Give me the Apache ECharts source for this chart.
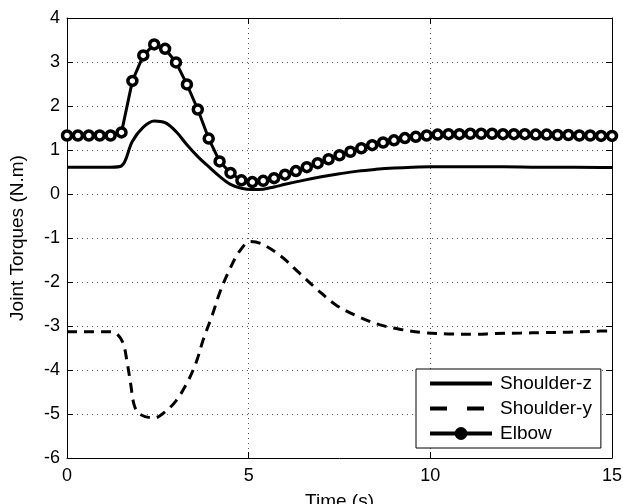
<!DOCTYPE html>
<html>
<head>
<meta charset="utf-8">
<script src="https://cdn.jsdelivr.net/npm/echarts@6/dist/echarts.min.js"></script>
<style>html,body{margin:0;padding:0;background:#fff}#c{width:623px;height:504px}</style>
</head>
<body>
<div id="c"></div>
<script>
var seriesNames = ['Shoulder-z', 'Shoulder-y', 'Elbow'];
var xTicks = [0, 5, 10, 15];
var yTicks = [-6, -5, -4, -3, -2, -1, 0, 1, 2, 3, 4];

var shoulderZT = [0, 1.2, 1.5, 1.8, 2.1, 2.4, 2.7, 3.0, 3.3, 3.6, 3.9, 4.2, 4.5, 4.8, 5.1, 5.4, 5.7, 6.0, 6.5, 7.0, 7.5, 8.0, 8.5, 9.0, 9.5, 10, 11, 12, 13, 14, 15];
var shoulderZV = [0.61, 0.61, 0.64, 1.20, 1.52, 1.66, 1.62, 1.42, 1.12, 0.85, 0.62, 0.40, 0.22, 0.13, 0.10, 0.11, 0.16, 0.22, 0.31, 0.39, 0.46, 0.52, 0.56, 0.59, 0.61, 0.62, 0.62, 0.62, 0.61, 0.61, 0.60];

var shoulderYT = [0, 1.2, 1.4, 1.55, 1.65, 1.75, 1.85, 2.0, 2.4, 2.7, 3.0, 3.3, 3.55, 3.75, 4.0, 4.2, 4.45, 4.75, 5.05, 5.35, 5.9, 6.4, 6.9, 7.4, 8.0, 8.6, 9.2, 9.8, 10.5, 11.2, 11.8, 12.5, 13.1, 13.8, 14.5, 15];
var shoulderYV = [-3.13, -3.13, -3.2, -3.4, -3.8, -4.3, -4.8, -5.0, -5.09, -4.95, -4.7, -4.3, -3.84, -3.31, -2.75, -2.25, -1.76, -1.30, -1.08, -1.13, -1.42, -1.80, -2.18, -2.52, -2.78, -2.97, -3.08, -3.15, -3.18, -3.19, -3.17, -3.16, -3.15, -3.14, -3.12, -3.11];

var elbowT = [0, 0.3, 0.6, 0.9, 1.2, 1.5, 1.8, 2.1, 2.4, 2.7, 3.0, 3.3, 3.6, 3.9, 4.2, 4.5, 4.8, 5.1, 5.4, 5.7, 6.0, 6.3, 6.6, 6.9, 7.2, 7.5, 7.8, 8.1, 8.4, 8.7, 9.0, 9.3, 9.6, 9.9, 10.2, 10.5, 10.8, 11.1, 11.4, 11.7, 12.0, 12.3, 12.6, 12.9, 13.2, 13.5, 13.8, 14.1, 14.4, 14.7, 15.0];
var elbowV = [1.33, 1.33, 1.33, 1.33, 1.33, 1.40, 2.57, 3.15, 3.40, 3.30, 2.99, 2.49, 1.92, 1.26, 0.74, 0.48, 0.31, 0.27, 0.30, 0.36, 0.44, 0.52, 0.61, 0.70, 0.79, 0.88, 0.96, 1.04, 1.11, 1.17, 1.22, 1.27, 1.30, 1.33, 1.35, 1.36, 1.36, 1.37, 1.37, 1.37, 1.36, 1.36, 1.36, 1.35, 1.35, 1.34, 1.34, 1.33, 1.33, 1.32, 1.32];

function zip(t, v) { return t.map(function (x, i) { return [x, v[i]]; }); }

var FONT = 'Liberation Sans, Arial, Helvetica, sans-serif';
var chart = echarts.init(document.getElementById('c'), null, { renderer: 'canvas' });

var splitStyle = { show: true, lineStyle: { color: '#555', width: 1, type: [1, 4] } };
var tickStyle = { show: true, inside: true, length: 6, lineStyle: { color: '#000', width: 1 } };
var lineAxis = { show: true, onZero: false, lineStyle: { color: '#000', width: 1 } };
var hiddenSym = { color: 'rgba(0,0,0,0)', borderColor: 'rgba(0,0,0,0)', borderWidth: 0, opacity: 0 };

chart.setOption({
  animation: false,
  backgroundColor: '#fff',
  grid: { left: 67, right: 11, top: 18, bottom: 46, containLabel: false, outerBoundsMode: 'none' },
  xAxis: [
    {
      type: 'value', position: 'bottom', min: xTicks[0], max: xTicks[xTicks.length - 1], interval: 5,
      axisLine: lineAxis, axisTick: tickStyle, splitLine: splitStyle,
      axisLabel: { color: '#000', fontSize: 18, fontFamily: FONT, margin: 9 },
      name: 'Time (s)', nameLocation: 'middle', nameGap: 34,
      nameTextStyle: { color: '#000', fontSize: 19, fontFamily: FONT, verticalAlign: 'top' }
    },
    {
      type: 'value', position: 'top', min: xTicks[0], max: xTicks[xTicks.length - 1], interval: 5,
      axisLine: lineAxis, axisTick: tickStyle, splitLine: { show: false }, axisLabel: { show: false }
    }
  ],
  yAxis: [
    {
      type: 'value', position: 'left', min: yTicks[0], max: yTicks[yTicks.length - 1], interval: 1,
      axisLine: lineAxis, axisTick: tickStyle, splitLine: splitStyle,
      axisLabel: { color: '#000', fontSize: 18, fontFamily: FONT, margin: 7 },
      name: 'Joint Torques (N.m)', nameLocation: 'middle', nameGap: 40,
      nameTextStyle: { color: '#000', fontSize: 19, fontFamily: FONT }
    },
    {
      type: 'value', position: 'right', min: yTicks[0], max: yTicks[yTicks.length - 1], interval: 1,
      axisLine: lineAxis, axisTick: tickStyle, splitLine: { show: false }, axisLabel: { show: false }
    }
  ],
  legend: {
    orient: 'vertical', left: 416, top: 369,
    backgroundColor: '#fff', borderColor: '#000', borderWidth: 1,
    padding: [5, 9, 5, 12],
    itemWidth: 62, itemHeight: 16, itemGap: 6,
    textStyle: { color: '#000', fontSize: 19, fontFamily: FONT, padding: [0, 0, 0, 3] },
    data: [
      { name: seriesNames[0], itemStyle: hiddenSym, lineStyle: { width: 4, color: '#000' } },
      { name: seriesNames[1], itemStyle: hiddenSym, lineStyle: { width: 4, color: '#000', type: [17, 20] } },
      { name: seriesNames[2], itemStyle: { color: '#000', borderColor: '#000', borderWidth: 0 }, lineStyle: { width: 4, color: '#000' } }
    ]
  },
  series: [
    {
      name: seriesNames[0], type: 'line', xAxisIndex: 0, yAxisIndex: 0,
      data: zip(shoulderZT, shoulderZV), smooth: 0.35,
      symbol: 'none', color: '#000', lineStyle: { color: '#000', width: 3 }, z: 3
    },
    {
      name: seriesNames[1], type: 'line', xAxisIndex: 0, yAxisIndex: 0,
      data: zip(shoulderYT, shoulderYV), smooth: 0.35,
      symbol: 'none', color: '#000', lineStyle: { color: '#000', width: 3, type: [10, 7] }, z: 3
    },
    {
      name: seriesNames[2], type: 'line', xAxisIndex: 0, yAxisIndex: 0,
      data: zip(elbowT, elbowV), smooth: false,
      symbol: 'circle', symbolSize: 9, showAllSymbol: true,
      itemStyle: { color: '#fff', borderColor: '#000', borderWidth: 3.5 },
      lineStyle: { color: '#000', width: 3 }, z: 4
    }
  ]
});
</script>
</body>
</html>
